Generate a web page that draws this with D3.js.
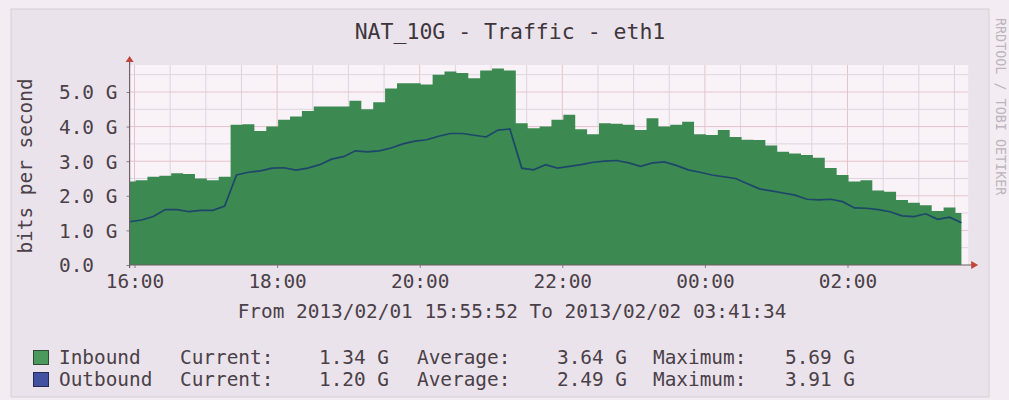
<!DOCTYPE html>
<html><head><meta charset="utf-8">
<script src="https://cdn.jsdelivr.net/npm/d3@7"></script>
<style>
html,body{margin:0;padding:0;background:#f3edf3;}
svg{display:block;}
text{font-family:"DejaVu Sans Mono",monospace;}
</style></head>
<body>
<svg id="chart" width="1009" height="400"></svg>
<script>
// ---- data ----
const title = "NAT_10G - Traffic - eth1";
const rangeText = "From 2013/02/01 15:55:52 To 2013/02/02 03:41:34";
const yAxisTitle = "bits per second";
const watermark = "RRDTOOL / TOBI OETIKER";
const stepMinutes = 10;
// values in G bit/s, one every 10 minutes from 15:55:52
const inbound = [2.41,2.45,2.55,2.58,2.65,2.63,2.50,2.45,2.55,4.05,4.07,3.87,4.00,4.20,4.29,4.45,4.58,4.58,4.58,4.75,
  4.50,4.70,5.10,5.25,5.25,5.22,5.50,5.59,5.55,5.40,5.62,5.68,5.62,4.10,3.95,4.00,4.20,4.34,3.92,3.78,
  4.10,4.08,4.05,3.90,4.24,4.00,4.05,4.14,3.78,3.76,3.90,3.70,3.62,3.61,3.45,3.27,3.22,3.18,3.10,2.80,
  2.60,2.41,2.45,2.15,2.12,1.88,1.80,1.73,1.56,1.66,1.50];
const outbound = [1.25,1.30,1.40,1.60,1.60,1.54,1.58,1.58,1.70,2.60,2.68,2.72,2.80,2.81,2.74,2.80,2.90,3.06,3.13,3.30,
  3.27,3.30,3.38,3.50,3.58,3.62,3.72,3.80,3.80,3.75,3.70,3.90,3.93,2.80,2.75,2.90,2.80,2.85,2.90,2.97,
  3.00,3.02,2.95,2.85,2.95,2.98,2.88,2.75,2.68,2.60,2.55,2.50,2.35,2.20,2.14,2.08,2.02,1.90,1.88,1.90,
  1.83,1.65,1.64,1.60,1.54,1.42,1.40,1.48,1.32,1.38,1.22];
const yTicks = [0,1,2,3,4,5];
const yLabels = ["0.0","1.0 G","2.0 G","3.0 G","4.0 G","5.0 G"];
const xLabels = ["16:00","18:00","20:00","22:00","00:00","02:00"];
const xLabelDays = [1,1,1,1,2,2];
const legendNames = ["Inbound","Outbound"];
const legendCurrent = ["1.34 G","1.20 G"];
const legendAverage = ["3.64 G","2.49 G"];
const legendMaximum = ["5.69 G","3.91 G"];

// ---- layout ----
const start = Date.UTC(2013,1,1,15,55,52);
const end = Date.UTC(2013,1,2,3,41,34);
const plot = {left:129.6, right:968.2, top:65, bottom:265};
const txt = "#4a4048";

const svg = d3.select("#chart");
svg.append("rect").attr("x",0).attr("y",0).attr("width",1009).attr("height",400).attr("fill","#f3edf3");
svg.append("rect").attr("x",11).attr("y",9).attr("width",978).attr("height",388)
  .attr("fill","#ebe3eb").attr("stroke","#d6ced6").attr("stroke-width",1);

const x = d3.scaleUtc().domain([start,end]).range([plot.left,plot.right]);
const y = d3.scaleLinear().domain([0,5.78]).range([plot.bottom,plot.top]);

// canvas
svg.append("rect").attr("x",plot.left).attr("y",plot.top)
  .attr("width",plot.right-plot.left).attr("height",plot.bottom-plot.top).attr("fill","#f9f3f8");

// grid
const g = svg.append("g");
const minorX = d3.utcMinute.every(30).range(new Date(start), new Date(end));
g.selectAll(".vx").data(minorX).join("line")
  .attr("x1",d=>x(d)).attr("x2",d=>x(d)).attr("y1",plot.top).attr("y2",plot.bottom)
  .attr("stroke",d=>d.getUTCHours()%2===0&&d.getUTCMinutes()===0?"#e6c3cb":"#ddd5dd").attr("stroke-width",1);
const minorY = d3.range(0.5,5.8,0.5);
g.selectAll(".hy").data(minorY).join("line")
  .attr("x1",plot.left).attr("x2",plot.right).attr("y1",d=>y(d)).attr("y2",d=>y(d))
  .attr("stroke",d=>Number.isInteger(d)?"#e6c3cb":"#ddd5dd").attr("stroke-width",1);

// series
const t = i => new Date(start + i*stepMinutes*60000);
const area = d3.area().x((d,i)=>x(t(i))).y0(y(0)).y1(d=>y(d)).curve(d3.curveStep);
svg.append("path").datum(inbound).attr("d",area).attr("fill","#3c8a52");
const line = d3.line().x((d,i)=>x(t(i))).y(d=>y(d)).curve(d3.curveLinear);
svg.append("path").datum(outbound).attr("d",line).attr("fill","none")
  .attr("stroke","#1d466a").attr("stroke-width",1.7);

// axes
const xTickDates = xLabels.map((s,i)=>new Date(Date.UTC(2013,1,xLabelDays[i],+s.slice(0,2),0,0)));
const xAxis = d3.axisBottom(x).tickValues(xTickDates).tickFormat((d,i)=>xLabels[i]).tickSize(3).tickPadding(5);
const gx = svg.append("g").attr("transform",`translate(0,${plot.bottom})`).call(xAxis);
gx.select(".domain").remove();
gx.selectAll("line").attr("stroke","#8a7a80");
gx.selectAll("text").attr("font-size","19.4px").attr("fill",txt).attr("dy",null).attr("y",23)
  .attr("font-family","DejaVu Sans Mono");

const yAxis = d3.axisLeft(y).tickValues(yTicks).tickFormat((d,i)=>yLabels[i]).tickSize(3);
const gy = svg.append("g").attr("transform",`translate(${plot.left},0)`).call(yAxis);
gy.select(".domain").remove();
gy.selectAll("line").attr("stroke","#8a7a80");
gy.selectAll("text").attr("font-size","19.4px").attr("fill",txt).attr("text-anchor","start")
  .attr("x",59-plot.left).attr("dy","0.36em").attr("font-family","DejaVu Sans Mono");

// axis lines + arrows
svg.append("line").attr("x1",plot.left).attr("x2",plot.right+4).attr("y1",plot.bottom).attr("y2",plot.bottom)
  .attr("stroke","#6f5f66").attr("stroke-width",1.2);
svg.append("line").attr("x1",plot.left).attr("x2",plot.left).attr("y1",plot.bottom+3).attr("y2",plot.top-4)
  .attr("stroke","#6f5f66").attr("stroke-width",1.2);
svg.append("path").attr("d",`M${plot.left-4},${plot.top-3}L${plot.left+4},${plot.top-3}L${plot.left},${plot.top-9}Z`).attr("fill","#c0453a");
svg.append("path").attr("d",`M${plot.right+3},${plot.bottom-4}L${plot.right+3},${plot.bottom+4}L${plot.right+10},${plot.bottom}Z`).attr("fill","#c0453a");

// texts
svg.append("text").attr("x",510).attr("y",39).attr("text-anchor","middle").attr("font-size","21.5px")
  .attr("fill","#3e363c").text(title);
svg.append("text").attr("transform","translate(32,166) rotate(-90)").attr("text-anchor","middle")
  .attr("font-size","19.4px").attr("fill",txt).text(yAxisTitle);
svg.append("text").attr("transform","translate(996,18) rotate(90)").attr("text-anchor","start")
  .attr("font-size","13.4px").attr("fill","#bdb4bc").text(watermark);
svg.append("text").attr("x",512).attr("y",318).attr("text-anchor","middle").attr("font-size","19.4px")
  .attr("fill",txt).text(rangeText);

// legend
const swCol = ["#4b9a5c","#4352a0"], swStroke=["#2f4a36","#252a55"];
legendNames.forEach((n,i)=>{
  const by = 364 + i*22;
  svg.append("rect").attr("x",33.5).attr("y",by-13.5).attr("width",15).attr("height",14)
    .attr("fill",swCol[i]).attr("stroke",swStroke[i]).attr("stroke-width",1);
  const row = svg.append("g").attr("font-size","19.4px").attr("fill",txt);
  row.append("text").attr("x",59).attr("y",by).text(n);
  row.append("text").attr("x",180).attr("y",by).text("Current:");
  row.append("text").attr("x",389).attr("y",by).attr("text-anchor","end").text(legendCurrent[i]);
  row.append("text").attr("x",417).attr("y",by).text("Average:");
  row.append("text").attr("x",627).attr("y",by).attr("text-anchor","end").text(legendAverage[i]);
  row.append("text").attr("x",653).attr("y",by).text("Maximum:");
  row.append("text").attr("x",855).attr("y",by).attr("text-anchor","end").text(legendMaximum[i]);
});
</script>
</body></html>
